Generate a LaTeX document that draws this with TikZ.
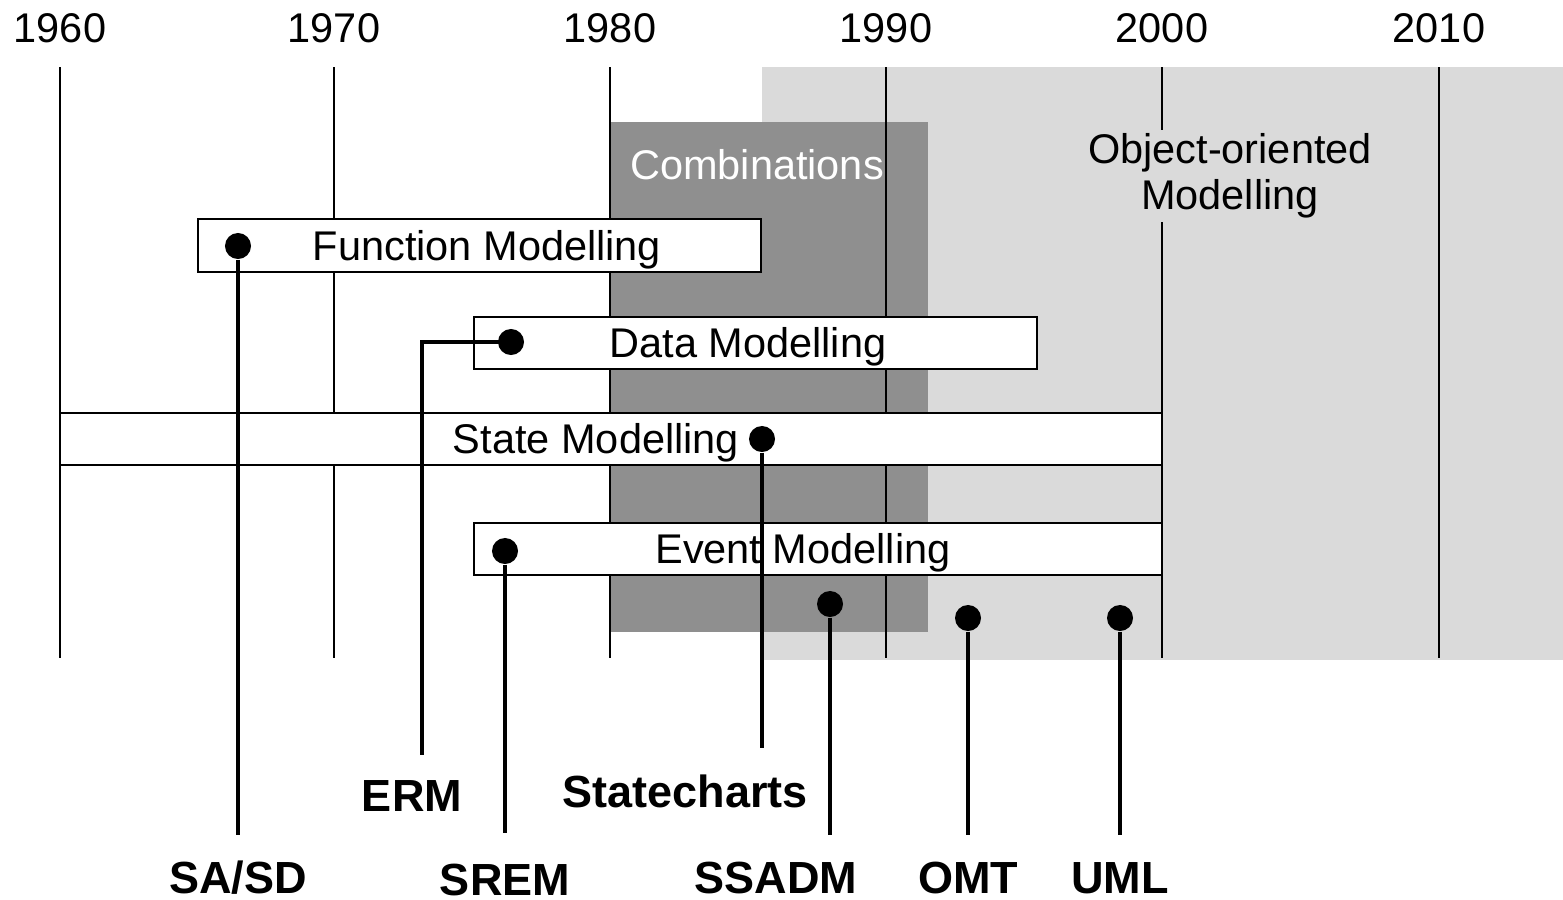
\documentclass[tikz,border=0pt]{standalone}
\usepackage{fontspec}
\setmainfont{Liberation Sans}
\usetikzlibrary{calc}
\definecolor{ltgrey}{RGB}{218,218,218}
\definecolor{dkgrey}{RGB}{143,143,143}

\begin{document}
\begin{tikzpicture}[x=0.01cm, y=-0.01cm,
	yr/.style={font=\fontsize{11.8}{13.1}\selectfont},
	band/.style={draw, fill=white, line width=.5pt},
	blob/.style={circle, fill=black, inner sep=0pt, minimum size=0.26cm},
	stem/.style={line width=1.4pt},
	meth/.style={font=\bfseries\fontsize{12.8}{15}\selectfont}]
\useasboundingbox (0,0) rectangle (1563,900);

	% draw shaded periods
	\fill[ltgrey] (762,67) rectangle (1563,660);
	\fill[dkgrey] (611,122) rectangle (928,632);
	\node[yr, text=white] (comb) at (757,165) {Combinations};

	% draw year lines
	\foreach \yy/\xx in {1960/60,1970/334,1980/610,1990/886,2000/1162,2010/1439}{
		\node[yr] (y\yy) at (\xx,28) {\yy};
		\draw[line width=.6pt] (\xx,67) -- (\xx,658);
	}
	\node[yr, fill=ltgrey, align=center, inner sep=1pt] (oo) at (1230,176) {Object-oriented\\Modelling};

	% draw modelling bands
	\draw[band] (198,219) rectangle (761,272);
	\node[yr] (fm) at (487,250) {Function Modelling};
	\draw[band] (474,317) rectangle (1037,369);
	\node[yr] (dm) at (748,347) {Data Modelling};
	\draw[band] (60,413) rectangle (1162,465);
	\node[yr] (sm) at (596,443) {State Modelling};
	\draw[band] (474,523) rectangle (1162,575);
	\node[yr] (em) at (803,553) {Event Modelling};

	% draw methods
	\node[blob] (sasd) at (238,246) {};
	\node[blob] (erm) at (511,342) {};
	\node[blob] (srem) at (505,551) {};
	\node[blob] (stch) at (762,439) {};
	\node[blob] (ssadm) at (830,604) {};
	\node[blob] (omt) at (968,618) {};
	\node[blob] (uml) at (1120,618) {};

	\coordinate (sasd end) at (238,835);
	\coordinate (erm end) at (422,755);
	\coordinate (srem end) at (505,833);
	\coordinate (stch end) at (762,748);
	\coordinate (ssadm end) at (830,835);
	\coordinate (omt end) at (968,835);
	\coordinate (uml end) at (1120,835);

	\draw[stem] (sasd) -- (sasd end);
	\draw[stem] (erm.center) -- (erm -| erm end) -- (erm end);
	\draw[stem] (srem) -- (srem end);
	\draw[stem] (stch) -- (stch end);
	\draw[stem] (ssadm) -- (ssadm end);
	\draw[stem] (omt) -- (omt end);
	\draw[stem] (uml) -- (uml end);

	\node[meth] (sasd lbl) at (238,878) {SA/SD};
	\node[meth] (erm lbl) at (412,796) {ERM};
	\node[meth] (srem lbl) at (505,880) {SREM};
	\node[meth] (stch lbl) at (685,791) {Statecharts};
	\node[meth] (ssadm lbl) at (776,878) {SSADM};
	\node[meth] (omt lbl) at (968,878) {OMT};
	\node[meth] (uml lbl) at (1120,878) {UML};
\end{tikzpicture}
\end{document}
